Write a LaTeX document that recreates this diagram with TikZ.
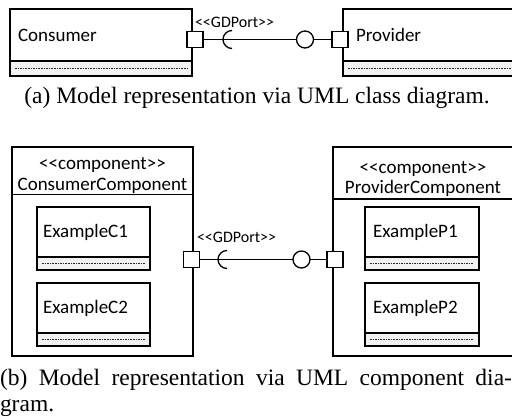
\documentclass[tikz,border=0pt]{standalone}
\usepackage{fontspec}
\setmainfont{Liberation Serif}
\newfontfamily\umlfont{Carlito}
\usetikzlibrary{positioning}
\definecolor{attrgray}{HTML}{F2F2F2}
\newcommand{\umlst}[1]{\textless\textless#1\textgreater\textgreater}

\begin{document}
\begin{tikzpicture}[x=1pt,y=-1pt,line width=1.3pt,
  every node/.style={font=\umlfont\fontsize{19}{21}\selectfont,outer sep=0pt},
  clsname/.style 2 args={draw,rectangle,anchor=north west,minimum height=#1,text width=#2,inner xsep=8pt,inner ysep=0pt,align=left},
  clsattr/.style 2 args={draw,fill=attrgray,rectangle,anchor=north,minimum width=#1,minimum height=#2,inner sep=0pt,
    path picture={\draw[line width=0.8pt,black!85,dash pattern=on 1.6pt off 1pt] ([xshift=5pt]path picture bounding box.west) -- ([xshift=-5pt]path picture bounding box.east);}},
  comp/.style={draw,rectangle,anchor=north west,minimum width=181pt,minimum height=209pt,inner sep=0pt},
  comphead/.style={draw,rectangle,anchor=north west,minimum width=181pt,minimum height=#1,inner sep=0pt},
  port/.style={draw,fill=white,rectangle,minimum size=16pt,inner sep=0pt},
  ball/.style={draw,fill=white,circle,minimum size=17pt,inner sep=0pt},
  stereo/.style={anchor=base west,inner sep=0pt,font=\umlfont\fontsize{16}{18}\selectfont},
  caption/.style={inner sep=0pt,font=\rmfamily\fontsize{23.5}{26}\selectfont}]
  \clip (0,0) rectangle (512,419);
  % (a) klassen
  \node[clsname={52pt}{166pt}] (cons) at (10,9) {Consumer};
  \node[clsattr={182pt}{15pt},below=0pt of cons] (consattr) {};
  \node[clsname={52pt}{156pt},inner xsep=13pt] (prov) at (343,9) {Provider};
  \node[clsattr={182pt}{15pt},below=0pt of prov] (provattr) {};
  \node[port] (cport) at (195,39.5) {};
  \node[port] (pport) at (340,39.5) {};
  \node[ball] (pball) at (305,39.5) {};
  \draw (cport) -- (pball) -- (pport);
  \coordinate (csock) at (232,39.5);
  \draw (csock) ++(0,-9) arc[start angle=270,end angle=90,radius=9];
  \node[stereo] (gdport) at (195,28) {\umlst{GDPort}};
  \node[caption,anchor=base] (capa) at (257,104) {(a) Model representation via UML class diagram.};
  % (b) komponenten
  \node[comp] (ccomp) at (12,147) {};
  \node[comphead=47.5pt] (cchead) at (12,147) {};
  \node[anchor=base,inner sep=0pt] (ccst) at (102.5,170) {\umlst{component}};
  \node[anchor=base,inner sep=0pt] (ccname) at (102.5,191) {ConsumerComponent};
  \node[comp] (pcomp) at (333,147) {};
  \node[comphead=52pt] (pchead) at (333,147) {};
  \node[anchor=base,inner sep=0pt] (pcst) at (423,173.5) {\umlst{component}};
  \node[anchor=base,inner sep=0pt] (pcname) at (423,193.5) {ProviderComponent};
  % innere klassen
  \node[clsname={50pt}{101pt},inner xsep=6pt] (exc1) at (37,207) {ExampleC1};
  \node[clsattr={113pt}{13pt},below=0pt of exc1] (exc1attr) {};
  \node[clsname={50pt}{101pt},inner xsep=6pt,below right=13pt and 0pt of exc1attr.south west] (exc2) {ExampleC2};
  \node[clsattr={113pt}{13pt},below=0pt of exc2] (exc2attr) {};
  \node[clsname={50pt}{101pt},inner xsep=8pt,text width=98pt] (exp1) at (365,207) {ExampleP1};
  \node[clsattr={114pt}{13pt},below=0pt of exp1] (exp1attr) {};
  \node[clsname={50pt}{101pt},inner xsep=8pt,text width=98pt,below right=13pt and 0pt of exp1attr.south west] (exp2) {ExampleP2};
  \node[clsattr={114pt}{13pt},below=0pt of exp2] (exp2attr) {};
  % ports
  \node[port] (ccport) at (191.5,259.5) {};
  \node[port] (pcport) at (335,259.5) {};
  \node[ball] (pcball) at (301.5,259.5) {};
  \draw (ccport) -- (pcball) -- (pcport);
  \coordinate (ccsock) at (227,259.5);
  \draw (ccsock) ++(0,-9) arc[start angle=270,end angle=90,radius=9];
  \node[stereo] (gdport2) at (197,243) {\umlst{GDPort}};
  \node[caption,text width=512pt,align=justify,anchor=north west] (capb) at (0,369)
    {\noindent(b) Model representation via UML component dia-\linebreak gram.};
\end{tikzpicture}
\end{document}
